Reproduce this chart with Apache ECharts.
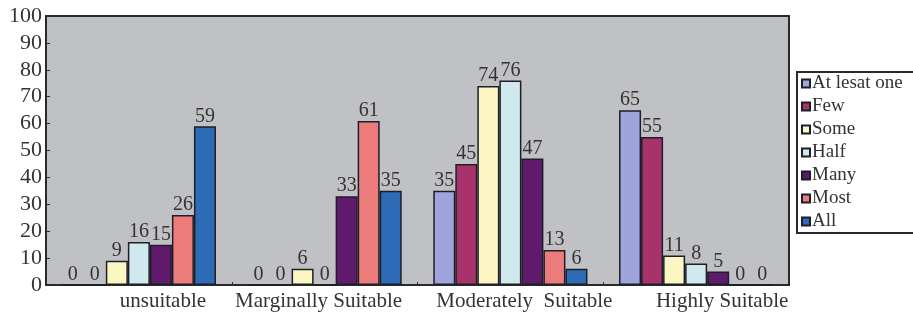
<!DOCTYPE html>
<html>
<head>
<meta charset="utf-8">
<title>Suitability</title>
<script src="https://cdn.jsdelivr.net/npm/echarts@6/dist/echarts.min.js"></script>
</head>
<body style="margin:0;background:#fff">
<div id="chart" style="width:913px;height:315px;"></div>
<script>
var categories = ['unsuitable', 'Marginally Suitable', 'Moderately  Suitable', 'Highly Suitable'];
var seriesNames = ['At lesat one', 'Few', 'Some', 'Half', 'Many', 'Most', 'All'];
var atLeastOne = [0, 0, 35, 65];
var few = [0, 0, 45, 55];
var some = [9, 6, 74, 11];
var half = [16, 0, 76, 8];
var many = [15, 33, 47, 5];
var most = [26, 61, 13, 0];
var all = [59, 35, 6, 0];
var seriesValues = [atLeastOne, few, some, half, many, most, all];
var colors = ['#a0a4dc', '#a8326c', '#fcf7c2', '#cfe9ee', '#5f1a6b', '#ec7b7b', '#2d6bb6'];
// label shift per category (px, + = right)
var labelShift = [24, -6, 14, 26];
var serif = '"Liberation Serif", "DejaVu Serif", serif';

var chart = echarts.init(document.getElementById('chart'));

var series = seriesNames.map(function (name, i) {
	return {
		name: name,
		type: 'bar',
		data: seriesValues[i],
		barGap: '0%',
		barCategoryGap: '17%',
		itemStyle: {
			color: colors[i],
			borderColor: '#1e1e28',
			borderWidth: 1.5
		},
		label: {
			show: true,
			position: 'top',
			distance: 0,
			color: '#333',
			fontFamily: serif,
			fontSize: 20
		}
	};
});

var richLabels = {};
labelShift.forEach(function (s, i) {
	richLabels['c' + i] = {
		fontFamily: serif, fontSize: 21, color: '#333',
		padding: s >= 0 ? [0, 0, 0, 2 * s] : [0, -2 * s, 0, 0]
	};
});

chart.setOption({
	animation: false,
	backgroundColor: '#fff',
	grid: {
		left: 46, top: 16, right: 124, bottom: 30,
		show: true,
		backgroundColor: '#c0c1c4',
		borderColor: '#2a2a2a',
		borderWidth: 2
	},
	legend: {
		orient: 'vertical',
		left: 797,
		top: 72,
		itemWidth: 8,
		itemHeight: 8,
		itemGap: 4,
		icon: 'rect',
		padding: [2, 30, 2, 4],
		borderColor: '#2a2a2a',
		borderWidth: 2,
		textStyle: { fontFamily: serif, fontSize: 19, color: '#333', padding: [0, 0, 0, -3] },
		data: seriesNames
	},
	xAxis: {
		type: 'category',
		data: categories,
		axisLine: { lineStyle: { color: '#2a2a2a', width: 2 } },
		axisTick: { show: true, inside: true, length: 3, lineStyle: { color: '#2a2a2a' } },
		axisLabel: {
			margin: 6,
			formatter: function (v, idx) {
				return '{c' + idx + '|' + v + '}';
			},
			rich: richLabels
		}
	},
	yAxis: {
		type: 'value',
		min: 0,
		max: 100,
		interval: 10,
		splitLine: { show: false },
		axisLine: { show: true, lineStyle: { color: '#2a2a2a', width: 2 } },
		axisTick: { show: true, inside: true, length: 4, lineStyle: { color: '#2a2a2a' } },
		axisLabel: { fontFamily: serif, fontSize: 22, color: '#333', margin: 4 }
	},
	series: series
});
</script>
</body>
</html>
